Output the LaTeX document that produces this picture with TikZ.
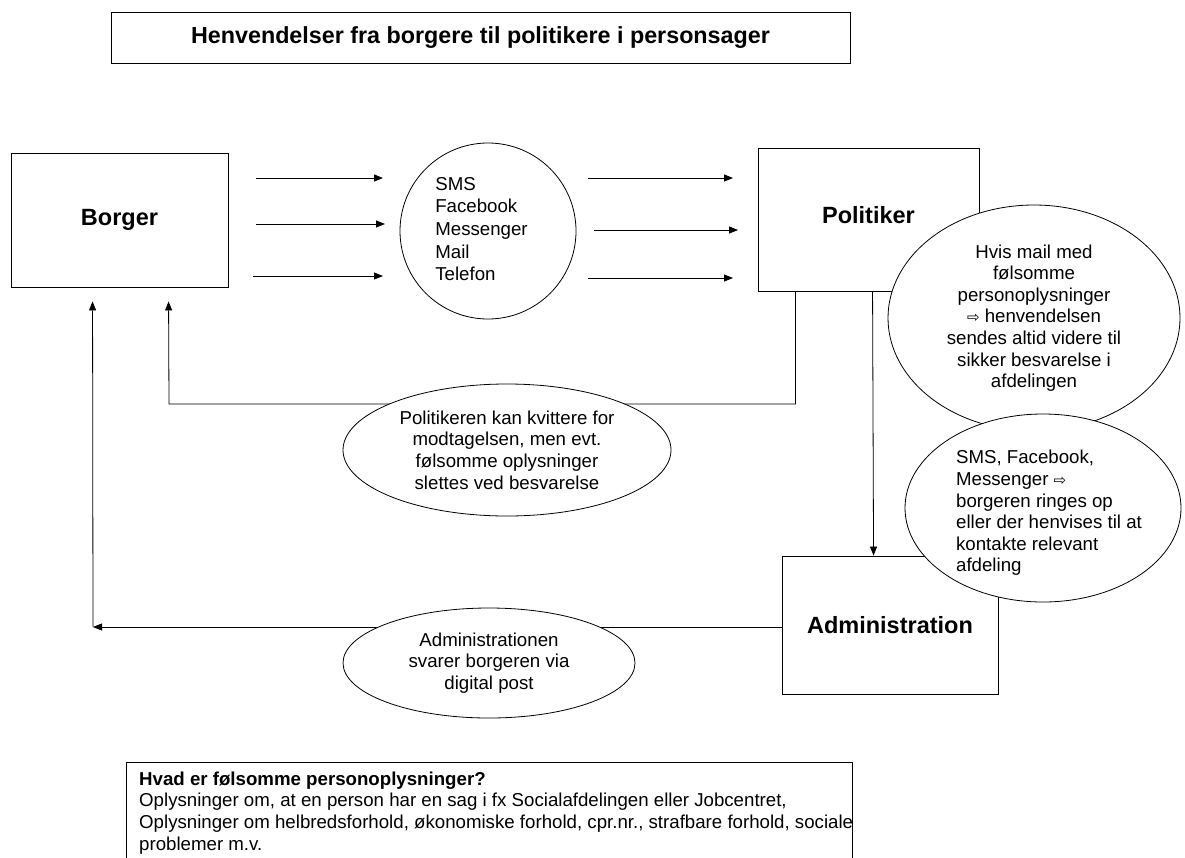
\documentclass[tikz,border=0pt]{standalone}
\usepackage{fontspec}
\setmainfont{Liberation Sans}
\newfontfamily\arrowfont{DejaVu Sans}
\usetikzlibrary{arrows.meta,shapes.geometric}
\newcommand{\wra}{{\arrowfont\fontsize{15}{21.6}\selectfont ⇨}}
\begin{document}
\begin{tikzpicture}[x=1pt,y=-1pt,
  box/.style={draw, line width=0.9pt, inner sep=0pt},
  boxlabel/.style={font=\fontsize{23.5}{28}\selectfont\bfseries},
  bubble/.style={draw, fill=white, line width=0.8pt, ellipse, inner sep=0pt,
    font=\fontsize{18.67}{21.6}\selectfont, align=center},
  bubbletext/.style={inner sep=0pt, font=\fontsize{18.67}{21.6}\selectfont, align=left},
  conn/.style={line width=0.8pt},
  arr/.style={conn, -{Triangle[length=9pt,width=7pt]}}
]
\useasboundingbox (0,0) rectangle (1185,857);

% title
\node[box, minimum width=739pt, minimum height=51pt,
  font=\fontsize{23.3}{28}\selectfont\bfseries] (title) at (480.5,37.5)
  {Henvendelser fra borgere til politikere i personsager};

% boxes
\node[box, boxlabel, minimum width=217pt, minimum height=134pt] (borger) at (119.5,220) {Borger};
\node[box, boxlabel, minimum width=221pt, minimum height=143pt, text depth=9pt] (pol) at (868.5,219.5) {Politiker};
\node[box, boxlabel, minimum width=216pt, minimum height=138pt] (adm) at (890,625) {Administration};

% media circle
\node[draw, fill=white, line width=0.8pt, circle, minimum size=176pt, inner sep=0pt] (media) at (488,231) {};
\node[bubbletext, font=\fontsize{18.67}{22.7}\selectfont] (mediatext) at (481.5,229)
  {SMS\\Facebook\\Messenger\\Mail\\Telefon};

% arrow end points
\coordinate (a1s) at (256,178); \coordinate (a1e) at (383,178);
\coordinate (a2s) at (256,224); \coordinate (a2e) at (385,224);
\coordinate (a3s) at (253,276); \coordinate (a3e) at (383,276);
\coordinate (b1s) at (588,178); \coordinate (b1e) at (733,178);
\coordinate (b2s) at (594,230); \coordinate (b2e) at (738,230);
\coordinate (b3s) at (588,278); \coordinate (b3e) at (733,278);
\draw[arr] (a1s) -- (a1e);
\draw[arr] (a2s) -- (a2e);
\draw[arr] (a3s) -- (a3e);
\draw[arr] (b1s) -- (b1e);
\draw[arr] (b2s) -- (b2e);
\draw[arr] (b3s) -- (b3e);

% politiker -> borger (kvittering)
\coordinate (kvcorner) at (169,404);
\coordinate (kvtip) at ([xshift=158pt,yshift=-14pt]borger.south west);
\draw[arr] ([xshift=38pt]pol.south west) |- (kvcorner) -- (kvtip);

% politiker -> administration
\draw[arr] ([xshift=115pt]pol.south west) -- ([xshift=92pt]adm.north west);

% administration -> borger
\coordinate (replycorner) at (93,627);
\coordinate (replytip) at ([xshift=82pt,yshift=-14pt]borger.south west);
\draw[arr] ([yshift=-2pt]adm.west) -- (replycorner);
\draw[arr] (replycorner) -- (replytip);

% bubbles
\node[bubble, minimum width=328pt, minimum height=132pt] (kvit) at (507,450)
  {Politikeren kan kvittere for\\modtagelsen, men evt.\\følsomme oplysninger\\slettes ved besvarelse};
\node[bubble, minimum width=292pt, minimum height=110pt] (svar) at (489,663)
  {Administrationen\\svarer borgeren via\\digital post};
\node[bubble, minimum width=292pt, minimum height=226pt] (mail) at (1034,318)
  {Hvis mail med\\følsomme\\personoplysninger\\\wra{} henvendelsen\\sendes altid videre til\\sikker besvarelse i\\afdelingen};
\node[bubble, minimum width=276pt, minimum height=188pt] (sms) at (1043,508) {};
\node[bubbletext] (smstext) at (1049,513)
  {SMS, Facebook,\\Messenger \wra\\borgeren ringes op\\eller der henvises til at\\kontakte relevant\\afdeling};

% info box
\draw[line width=0.9pt] (126,880) rectangle (852,762);
\node[anchor=north west, align=left, inner sep=0pt,
  font=\fontsize{18.67}{21.6}\selectfont] (info) at (139,771.5)
  {\textbf{Hvad er følsomme personoplysninger?}\\
   Oplysninger om, at en person har en sag i fx Socialafdelingen eller Jobcentret,\\
   Oplysninger om helbredsforhold, økonomiske forhold, cpr.nr., strafbare forhold, sociale\\
   problemer m.v.};
\end{tikzpicture}
\end{document}
